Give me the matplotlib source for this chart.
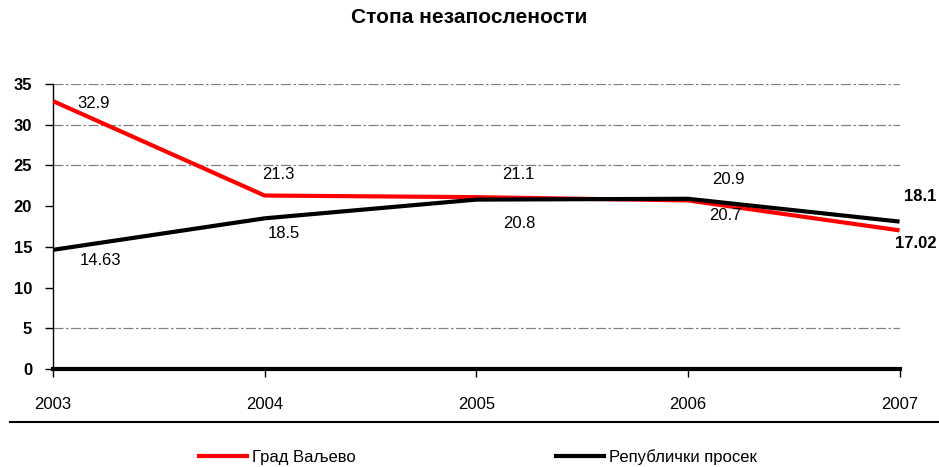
import matplotlib.pyplot as plt
from matplotlib.lines import Line2D

plt.rcParams['font.family'] = ['Liberation Sans', 'DejaVu Sans']

# data
years = ['2003', '2004', '2005', '2006', '2007']
valjevo = [32.9, 21.3, 21.1, 20.7, 17.02]
republika = [14.63, 18.5, 20.8, 20.9, 18.1]
valjevo_lbl = ['32.9', '21.3', '21.1', '20.7', '17.02']
republika_lbl = ['14.63', '18.5', '20.8', '20.9', '18.1']

fig = plt.figure(figsize=(9.39, 4.67), dpi=100)
ax = fig.add_axes([0.0564, 0.2099, 0.9016, 0.6103])
x = list(range(len(years)))

# dashed grid where visible in the reference
for g in [5, 25, 30, 35]:
    ax.axhline(g, color='#808080', lw=0.9, ls=(0, (8, 2, 2, 2)), zorder=1)

ax.plot(x, valjevo, color='#ff0000', lw=3, zorder=3, solid_capstyle='butt')
ax.plot(x, republika, color='black', lw=3, zorder=4, solid_capstyle='butt')

ax.set_xlim(0, 4)
ax.set_ylim(0, 35)
ax.set_yticks(range(0, 36, 5))
ax.set_yticklabels([str(v) for v in range(0, 36, 5)], fontsize=12, fontweight='bold')
ax.set_xticks(x)
ax.set_xticklabels(years, fontsize=12)
ax.tick_params(axis='x', length=6, width=1, pad=14, direction='out')
ax.tick_params(axis='y', length=6, width=1, pad=9)

for s in ['top', 'right']:
    ax.spines[s].set_visible(False)
ax.spines['bottom'].set_linewidth(3)
ax.spines['left'].set_linewidth(1)

# value labels (offsets in points)
off_v = [(29, -1.5), (10, 15), (30, 16.5), (27, -11), (12, -9.5)]
off_r = [(34, -7.5), (14, -11), (31, -17), (29, 14), (15, 18)]
for i in x:
    bold = i == 4
    ax.annotate(valjevo_lbl[i], (x[i], valjevo[i]), xytext=off_v[i], textcoords='offset points',
                ha='center', va='center', fontsize=12, fontweight='bold' if bold else 'normal',
                clip_on=False, annotation_clip=False)
    ax.annotate(republika_lbl[i], (x[i], republika[i]), xytext=off_r[i], textcoords='offset points',
                ha='center', va='center', fontsize=12, fontweight='bold' if bold else 'normal',
                clip_on=False, annotation_clip=False)

fig.text(0.5, 0.963, 'Стопа незапослености', ha='center', va='center',
         fontsize=15, fontweight='bold')

# separator line above the legend
fig.add_artist(Line2D([0.011, 1.0], [1 - 422 / 467] * 2, color='black', lw=1.5))

handles = [Line2D([], [], color='#ff0000', lw=3), Line2D([], [], color='black', lw=3)]
fig.legend(handles, ['Град Ваљево', 'Републички просек'], loc='center',
           bbox_to_anchor=(0.509, 1 - 457 / 467), ncol=2, frameon=False, fontsize=12,
           handlelength=2.9, handletextpad=0.3, columnspacing=12)

fig.savefig('out.png', dpi=100)
